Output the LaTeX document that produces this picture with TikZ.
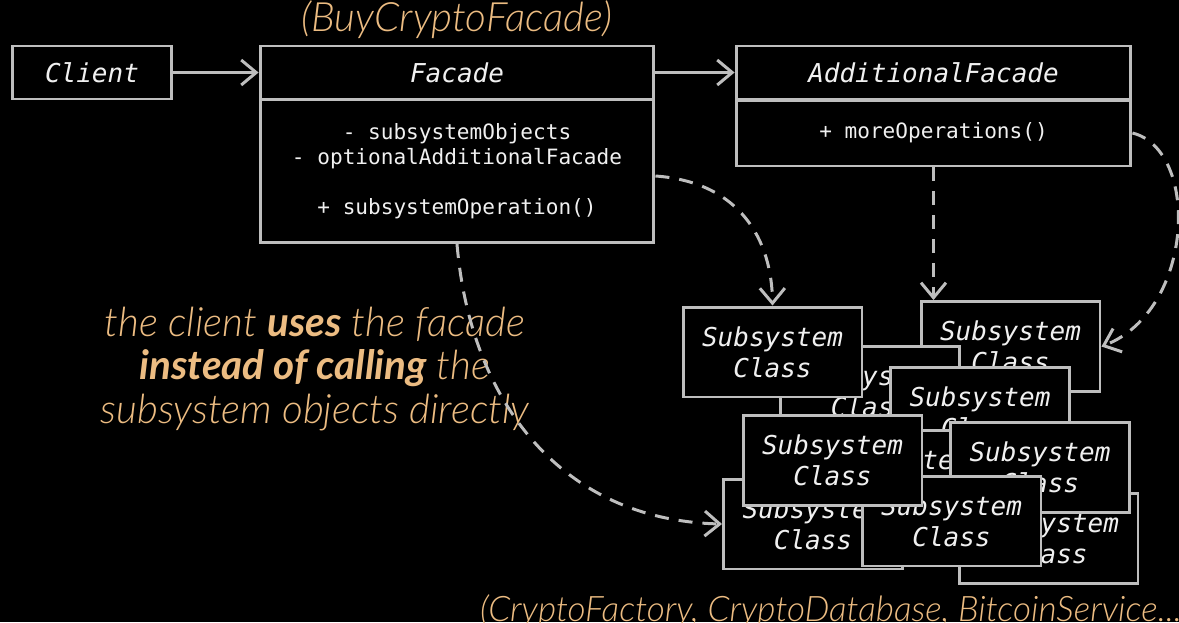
\documentclass[tikz,border=0pt]{standalone}
\usepackage{fontspec}
\setmonofont{DejaVu Sans Mono}
\newfontfamily\notefont{Lato Light}[BoldFont={Lato Bold}, BoldItalicFont={Lato Bold Italic}]
\usepackage{xcolor}
\usetikzlibrary{arrows.meta,positioning}

\definecolor{linegray}{RGB}{190,190,190}
\definecolor{notecolor}{RGB}{236,188,130}
\definecolor{textwhite}{RGB}{240,240,240}

\begin{document}
\begin{tikzpicture}[
    % GLOBAL CFG
    x=0.02cm, y=-0.02cm,
    font=\ttfamily,
    >={Straight Barb[length=0.3cm,width=0.5cm]},
    % Styles
    classbox/.style={% For the class names
        rectangle,
        draw=linegray,
        line width=1.7pt,
        fill=black,
        text=textwhite,
        font=\fontsize{14.8}{17.6}\selectfont\ttfamily\itshape,
        inner sep=0pt,
        minimum height=1.06cm,
        },
    membox/.style={% For the members of a class
        rectangle,
        draw=linegray,
        line width=1.7pt,
        fill=black,
        text=textwhite,
        font=\fontsize{12}{14.7}\selectfont\ttfamily,
        align=center,
        inner sep=0pt,
        },
    subbox/.style={% For the pile of subsystem classes
        classbox,
        align=center,
        minimum width=3.58cm,
        minimum height=1.8cm,
        },
    note/.style={% orange comments
        text=notecolor,
        font=\fontsize{23}{25}\selectfont\notefont\itshape,
        align=center,
        },
    ArrowU/.style={% plain arrows
        ->,
        draw=linegray,
        line width=1.7pt,
        },
    ArrowD/.style={% dashed arrows
        ->,
        draw=linegray,
        line width=1.7pt,
        dash pattern=on 0.28cm off 0.2cm,
        },
    ]

    \useasboundingbox (0,0) rectangle (1179,622);
    \fill[black] (0,0) rectangle (1179,622);
    \clip (0,0) rectangle (1179,622);

    % Draw the classes
    \node [classbox, minimum width=3.2cm] (client) at (92,72.5) {Client};
    \node [classbox, minimum width=7.88cm] (facade) at (457,72.5) {Facade};
    \node [membox, minimum width=7.88cm, minimum height=2.86cm] (facadebody) at (457,171)
        {- subsystemObjects\\- optionalAdditionalFacade\\[13.6pt]+ subsystemOperation()};
    \node [classbox, minimum width=7.9cm] (addfacade) at (933.5,72.5) {AdditionalFacade};
    \node [membox, minimum width=7.9cm, minimum height=1.32cm] (addbody) at (933.5,133)
        {+ moreOperations()};

    % Draw the subsystem classes, back to front
    \node [subbox] (sub3) at (1010.5,346.5) {Subsystem\\Class};
    \node [subbox] (sub2) at (870,391) {Subsystem\\Class};
    \node [subbox] (sub1) at (772.5,352) {Subsystem\\Class};
    \node [subbox] (sub4) at (980,412) {Subsystem\\Class};
    \node [subbox] (sub5) at (899,475) {Subsystem\\Class};
    \node [subbox] (sub10) at (1048.5,538.5) {Subsystem\\Class};
    \node [subbox] (sub8) at (813,524) {Subsystem\\Class};
    \node [subbox] (sub7) at (1040,467.5) {Subsystem\\Class};
    \node [subbox] (sub9) at (951.5,521) {Subsystem\\Class};
    \node [subbox] (sub6) at (832.5,460.5) {Subsystem\\Class};

    % Notes
    \node [note] (buynote) at (457,20) {(BuyCryptoFacade)};
    \node [note] (usesnote) at (315,369)
        {the client \textbf{uses} the facade\\\textbf{instead of calling} the\\subsystem objects directly};
    \node [note, font=\fontsize{20}{25}\selectfont\notefont\itshape, anchor=base west] (cryptonote) at (474,621)
        {(CryptoFactory, CryptoDatabase, BitcoinService...};

    % Connecting all
    \draw [ArrowU] (client) -- (facade);
    \draw [ArrowU] (facade) -- (addfacade);

    \draw [ArrowD] ([yshift=-0.1cm]facadebody.east) .. controls (740,182) and (772,240) .. (sub1.north);
    \draw [ArrowD] (addbody.south) -- (addbody.south |- sub3.north);
    \draw [ArrowD] (addbody.east) .. controls (1200,150) and (1195,310) .. (sub3.east);
    \draw [ArrowD] (facadebody.south) .. controls (470,400) and (560,520) .. (sub8.west);

\end{tikzpicture}
\end{document}
